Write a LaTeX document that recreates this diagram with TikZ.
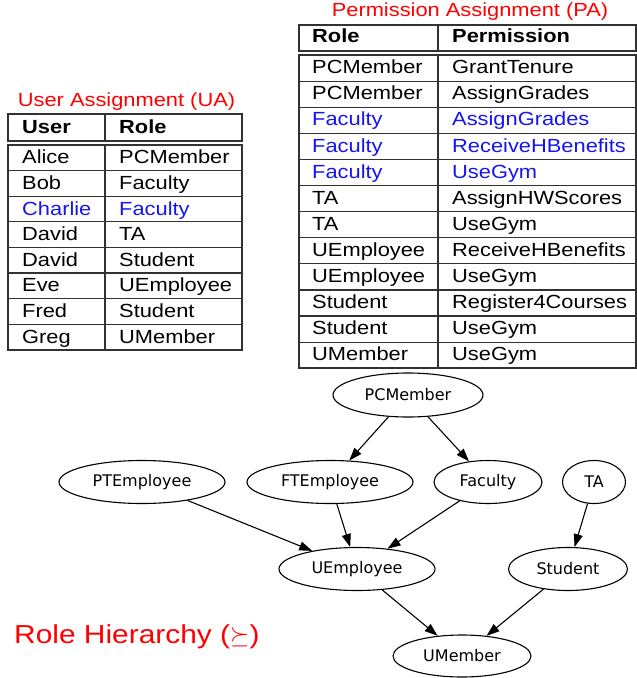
\documentclass[tikz,border=0pt]{standalone}
\usepackage{fontspec}
\usetikzlibrary{shapes.geometric,arrows.meta}

\newfontfamily\tabfont[FakeStretch=1.15]{Liberation Sans}
\newfontfamily\graphfont{DejaVu Sans}
\definecolor{rulegray}{RGB}{50,50,50}
\definecolor{hlblue}{RGB}{20,20,240}

\begin{document}
\begin{tikzpicture}[x=1pt,y=-1pt,
  cell/.style={anchor=base west, inner sep=0pt, font=\tabfont\fontsize{19}{19}\selectfont},
  hcell/.style={cell, font=\tabfont\bfseries\fontsize{19}{19}\selectfont},
  hl/.style={text=hlblue},
  ttl/.style={anchor=base, inner sep=0pt, text=red, font=\tabfont\fontsize{19}{19}\selectfont},
  grid/.style={rulegray, line width=1.2pt},
  role/.style={ellipse, draw, line width=1.1pt, inner sep=0pt, font=\graphfont\fontsize{16}{16}\selectfont},
  arr/.style={line width=1.1pt, -{Triangle[length=13pt,width=9pt]}}]
  \useasboundingbox (0,0) rectangle (637,678);

  % user assignment table
  \node[ttl] (ua-title) at (126.5,106.7) {User Assignment (UA)};
  \draw[grid] (8,114) rectangle (242,141);
  \draw[grid] (8,145) rectangle (242,350);
  \draw[grid] (105,114) -- (105,141);
  \draw[grid] (105,145) -- (105,350);
  \draw[grid] (8,170.6) -- (242,170.6);
  \draw[grid] (8,196.2) -- (242,196.2);
  \draw[grid] (8,221.8) -- (242,221.8);
  \draw[grid] (8,247.4) -- (242,247.4);
  \draw[grid] (8,273) -- (242,273);
  \draw[grid] (8,298.6) -- (242,298.6);
  \draw[grid] (8,324.2) -- (242,324.2);
  \node[hcell] (ua-h1) at (22,133) {User};
  \node[hcell] (ua-h2) at (119,133) {Role};
  \node[cell] (ua-u1) at (22,163.9) {Alice};
  \node[cell] (ua-r1) at (119,163.9) {PCMember};
  \node[cell] (ua-u2) at (22,189.5) {Bob};
  \node[cell] (ua-r2) at (119,189.5) {Faculty};
  \node[cell, hl] (ua-u3) at (22,215.1) {Charlie};
  \node[cell, hl] (ua-r3) at (119,215.1) {Faculty};
  \node[cell] (ua-u4) at (22,240.7) {David};
  \node[cell] (ua-r4) at (119,240.7) {TA};
  \node[cell] (ua-u5) at (22,266.3) {David};
  \node[cell] (ua-r5) at (119,266.3) {Student};
  \node[cell] (ua-u6) at (22,291.9) {Eve};
  \node[cell] (ua-r6) at (119,291.9) {UEmployee};
  \node[cell] (ua-u7) at (22,317.5) {Fred};
  \node[cell] (ua-r7) at (119,317.5) {Student};
  \node[cell] (ua-u8) at (22,343.1) {Greg};
  \node[cell] (ua-r8) at (119,343.1) {UMember};

  % permission assignment table
  \node[ttl] (pa-title) at (470,16) {Permission Assignment (PA)};
  \draw[grid] (299,25) rectangle (636,51);
  \draw[grid] (299,55) rectangle (636,368);
  \draw[grid] (438,25) -- (438,51);
  \draw[grid] (438,55) -- (438,368);
  \draw[grid] (299,81.1) -- (636,81.1);
  \draw[grid] (299,107.2) -- (636,107.2);
  \draw[grid] (299,133.3) -- (636,133.3);
  \draw[grid] (299,159.4) -- (636,159.4);
  \draw[grid] (299,185.5) -- (636,185.5);
  \draw[grid] (299,211.6) -- (636,211.6);
  \draw[grid] (299,237.7) -- (636,237.7);
  \draw[grid] (299,263.8) -- (636,263.8);
  \draw[grid] (299,289.9) -- (636,289.9);
  \draw[grid] (299,316) -- (636,316);
  \draw[grid] (299,342.1) -- (636,342.1);
  \node[hcell] (pa-h1) at (312,42.7) {Role};
  \node[hcell] (pa-h2) at (452,42.7) {Permission};
  \node[cell] (pa-r1) at (312,73.7) {PCMember};
  \node[cell] (pa-p1) at (452,73.7) {GrantTenure};
  \node[cell] (pa-r2) at (312,99.8) {PCMember};
  \node[cell] (pa-p2) at (452,99.8) {AssignGrades};
  \node[cell, hl] (pa-r3) at (312,125.9) {Faculty};
  \node[cell, hl] (pa-p3) at (452,125.9) {AssignGrades};
  \node[cell, hl] (pa-r4) at (312,152) {Faculty};
  \node[cell, hl] (pa-p4) at (452,152) {ReceiveHBenefits};
  \node[cell, hl] (pa-r5) at (312,178.1) {Faculty};
  \node[cell, hl] (pa-p5) at (452,178.1) {UseGym};
  \node[cell] (pa-r6) at (312,204.2) {TA};
  \node[cell] (pa-p6) at (452,204.2) {AssignHWScores};
  \node[cell] (pa-r7) at (312,230.3) {TA};
  \node[cell] (pa-p7) at (452,230.3) {UseGym};
  \node[cell] (pa-r8) at (312,256.4) {UEmployee};
  \node[cell] (pa-p8) at (452,256.4) {ReceiveHBenefits};
  \node[cell] (pa-r9) at (312,282.5) {UEmployee};
  \node[cell] (pa-p9) at (452,282.5) {UseGym};
  \node[cell] (pa-r10) at (312,308.6) {Student};
  \node[cell] (pa-p10) at (452,308.6) {Register4Courses};
  \node[cell] (pa-r11) at (312,334.7) {Student};
  \node[cell] (pa-p11) at (452,334.7) {UseGym};
  \node[cell] (pa-r12) at (312,360.8) {UMember};
  \node[cell] (pa-p12) at (452,360.8) {UseGym};

  % role hierarchy
  \node[role, minimum width=150pt, minimum height=44pt] (pcm) at (408,395) {PCMember};
  \node[role, minimum width=166pt, minimum height=43pt] (pte) at (142,482) {PTEmployee};
  \node[role, minimum width=166pt, minimum height=43pt] (fte) at (330,482) {FTEmployee};
  \node[role, minimum width=108pt, minimum height=43pt] (fac) at (488,482) {Faculty};
  \node[role, minimum width=63pt, minimum height=43pt] (ta) at (594,482) {TA};
  \node[role, minimum width=156pt, minimum height=43pt] (uemp) at (357,569) {UEmployee};
  \node[role, minimum width=119pt, minimum height=43pt] (stu) at (568,569) {Student};
  \node[role, minimum width=138pt, minimum height=42pt] (umem) at (462,656) {UMember};
  \draw[arr] (pcm) -- (fte);
  \draw[arr] (pcm) -- (fac);
  \draw[arr] (pte) -- (uemp);
  \draw[arr] (fte) -- (uemp);
  \draw[arr] (fac) -- (uemp);
  \draw[arr] (ta) -- (stu);
  \draw[arr] (uemp) -- (umem);
  \draw[arr] (stu) -- (umem);
  \node[anchor=base west, inner sep=0pt, text=red, font=\tabfont\fontsize{26}{26}\selectfont] (rh-title) at (14,643) {Role Hierarchy ($\succeq$)};
\end{tikzpicture}
\end{document}
